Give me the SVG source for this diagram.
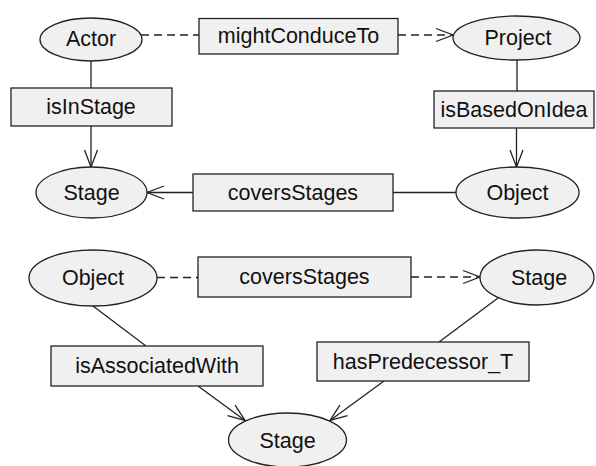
<svg xmlns="http://www.w3.org/2000/svg" width="596" height="466" viewBox="0 0 596 466">
<defs>
<style>
.n{fill:#f0f0f0;stroke:#222;stroke-width:1.3}
.t{font-family:"Liberation Sans",Arial,sans-serif;font-size:21.5px;fill:#111;text-anchor:middle;dominant-baseline:central}
.c{fill:none;stroke:#222;stroke-width:1.3}
.d{stroke-dasharray:8,5}
</style>
<marker id="a" markerUnits="userSpaceOnUse" markerWidth="24" markerHeight="20" viewBox="-20 -10 24 20" refX="0" refY="0" orient="auto">
<path d="M-17,-6.5 L0,0 L-17,6.5" fill="none" stroke="#222" stroke-width="1.3"/>
</marker>
</defs>
<rect width="596" height="466" fill="#fff"/>
<g id="connectors">
<line class="c d" x1="141" y1="35" x2="199" y2="35"/>
<line class="c d" x1="398" y1="35" x2="453" y2="35" marker-end="url(#a)"/>
<line class="c" x1="91" y1="61" x2="91" y2="88"/>
<line class="c" x1="91" y1="126" x2="91" y2="167" marker-end="url(#a)"/>
<line class="c" x1="517" y1="60" x2="517" y2="91"/>
<line class="c" x1="516.5" y1="128" x2="516.5" y2="167" marker-end="url(#a)"/>
<line class="c" x1="456" y1="192.5" x2="393" y2="192.5"/>
<line class="c" x1="193" y1="192.5" x2="147" y2="192.5" marker-end="url(#a)"/>
<line class="c d" x1="157" y1="277.5" x2="198" y2="277.5"/>
<line class="c d" x1="411" y1="277" x2="480" y2="277" marker-end="url(#a)"/>
<line class="c" x1="93" y1="306" x2="146" y2="346"/>
<line class="c" x1="198" y1="386" x2="245" y2="420.5" marker-end="url(#a)"/>
<line class="c" x1="498" y1="298" x2="439" y2="342"/>
<line class="c" x1="384" y1="381" x2="330" y2="420.5" marker-end="url(#a)"/>
</g>
<g id="actor"><ellipse class="n" cx="91" cy="39.5" rx="51" ry="21.5"/><text class="t" x="91" y="39">Actor</text></g>
<g id="mightConduceTo"><rect class="n" x="199" y="18.5" width="199" height="35.5"/><text class="t" x="298.5" y="36">mightConduceTo</text></g>
<g id="project"><ellipse class="n" cx="516.5" cy="38" rx="63.5" ry="22"/><text class="t" x="518" y="37.5">Project</text></g>
<g id="isInStage"><rect class="n" x="11" y="88" width="161" height="38"/><text class="t" x="91" y="107">isInStage</text></g>
<g id="isBasedOnIdea"><rect class="n" x="434" y="91" width="160" height="37"/><text class="t" x="514" y="109.5">isBasedOnIdea</text></g>
<g id="stage1"><ellipse class="n" cx="91.5" cy="192.5" rx="55.5" ry="25.5"/><text class="t" x="91.5" y="193">Stage</text></g>
<g id="coversStages1"><rect class="n" x="193" y="174" width="200" height="37"/><text class="t" x="293" y="192.5">coversStages</text></g>
<g id="object1"><ellipse class="n" cx="517.5" cy="192.5" rx="61.5" ry="25.5"/><text class="t" x="517.5" y="193">Object</text></g>
<g id="object2"><ellipse class="n" cx="93" cy="278" rx="64" ry="28"/><text class="t" x="93" y="278">Object</text></g>
<g id="coversStages2"><rect class="n" x="198" y="257" width="213" height="40"/><text class="t" x="304.5" y="277">coversStages</text></g>
<g id="stage2"><ellipse class="n" cx="537" cy="277.5" rx="57" ry="27.5"/><text class="t" x="539" y="278">Stage</text></g>
<g id="isAssociatedWith"><rect class="n" x="51" y="346" width="212" height="40"/><text class="t" x="157" y="366">isAssociatedWith</text></g>
<g id="hasPredecessor_T"><rect class="n" x="317" y="342" width="212" height="39"/><text class="t" x="423" y="361.5">hasPredecessor_T</text></g>
<g id="stage3"><ellipse class="n" cx="287.5" cy="440" rx="59" ry="27"/><text class="t" x="287.5" y="441">Stage</text></g>
</svg>
